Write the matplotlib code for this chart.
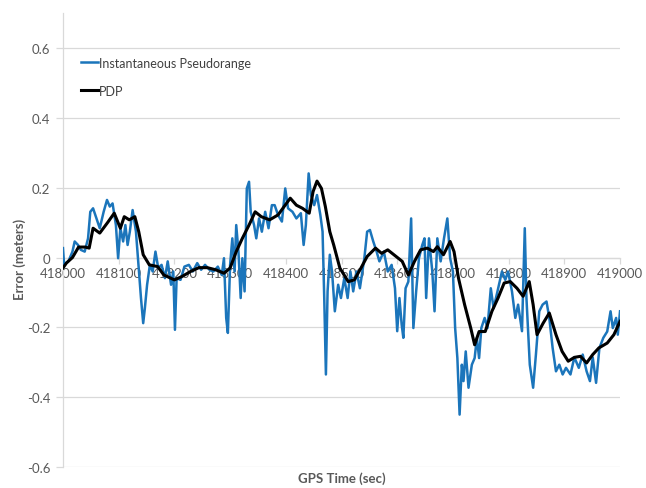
import matplotlib
matplotlib.use("Agg")
import matplotlib.pyplot as plt
import numpy as np

# GPS time offsets (s) from the start epoch and the range errors (m)
start_epoch = 418000

inst_t = [0, 2, 10, 17, 21, 27, 32, 39, 45, 49, 54, 60, 66, 73, 79, 84, 89, 95, 99, 103,
          108, 112, 116, 120, 125, 131, 136, 140, 144, 147, 151, 156, 161, 166, 171, 177,
          183, 188, 194, 198, 201, 204, 211, 218, 226, 233, 241, 248, 255, 263, 270, 278,
          285, 289, 293, 296, 300, 304, 308, 311, 315, 319, 322, 326, 330, 334, 337, 343,
          347, 352, 357, 363, 369, 375, 380, 386, 393, 399, 404, 412, 419, 427, 432, 436,
          441, 445, 451, 456, 462, 466, 469, 472, 475, 479, 483, 488, 494, 499, 505, 511,
          516, 521, 527, 533, 541, 546, 551, 557, 563, 568, 576, 583, 590, 596, 600, 604,
          608, 611, 615, 620, 625, 629, 634, 639, 645, 649, 652, 657, 663, 667, 672, 678,
          684, 690, 695, 700, 704, 708, 712, 716, 719, 723, 728, 734, 739, 743, 747, 751,
          757, 762, 768, 773, 780, 788, 794, 799, 806, 812, 817, 824, 829, 832, 838, 844,
          849, 855, 861, 868, 873, 879, 885, 891, 897, 903, 911, 918, 926, 933, 940, 946,
          951, 957, 963, 970, 977, 983, 987, 993, 996, 1000]
inst_err = [0.027, -0.02, -0.01, 0.017, 0.046, 0.036, 0.022, 0.017, 0.055, 0.131, 0.141,
            0.112, 0.084, 0.131, 0.165, 0.146, 0.155, 0.093, -0.002, 0.084, 0.046, 0.093,
            0.036, 0.074, 0.136, 0.074, -0.03, -0.116, -0.188, -0.145, -0.078, -0.021,
            -0.04, 0.017, -0.03, -0.021, -0.059, -0.011, -0.078, -0.04, -0.207, -0.059,
            -0.064, -0.026, -0.021, -0.04, -0.016, -0.035, -0.021, -0.035, -0.04, -0.026,
            -0.05, -0.002, -0.173, -0.216, -0.021, 0.055, -0.04, 0.093, 0.017, -0.116,
            -0.002, -0.097, 0.198, 0.217, 0.131, 0.093, 0.055, 0.112, 0.074, 0.131, 0.084,
            0.15, 0.15, 0.122, 0.103, 0.198, 0.141, 0.131, 0.112, 0.127, 0.036, 0.093,
            0.241, 0.179, 0.15, 0.179, 0.122, 0.074, -0.116, -0.335, -0.097, 0.008, -0.04,
            -0.154, -0.078, -0.116, -0.059, -0.116, -0.04, -0.097, -0.04, -0.088, -0.002,
            0.074, 0.079, 0.046, 0.017, -0.011, 0.017, -0.04, -0.021, -0.088, -0.211,
            -0.116, -0.192, -0.23, -0.088, -0.069, 0.112, -0.202, -0.097, -0.002, 0.036,
            0.055, -0.116, 0.055, -0.04, -0.154, 0.055, -0.011, 0.055, 0.112, -0.002,
            -0.04, -0.202, -0.288, -0.45, -0.307, -0.354, -0.269, -0.373, -0.307, -0.288,
            -0.23, -0.288, -0.202, -0.173, -0.202, -0.088, -0.145, -0.097, -0.04, -0.064,
            -0.04, -0.097, -0.173, -0.135, -0.211, 0.084, -0.116, -0.307, -0.373, -0.278,
            -0.154, -0.135, -0.126, -0.173, -0.259, -0.326, -0.307, -0.335, -0.316, -0.335,
            -0.286, -0.316, -0.278, -0.326, -0.354, -0.286, -0.359, -0.259, -0.23, -0.212,
            -0.154, -0.202, -0.173, -0.221, -0.154]

pdp_t = [0, 6, 17, 28, 40, 47, 54, 66, 80, 92, 103, 110, 119, 129, 136, 144, 155, 170,
         181, 200, 214, 229, 244, 259, 274, 289, 300, 311, 322, 334, 345, 356, 371, 386,
         397, 408, 419, 430, 442, 449, 456, 464, 471, 479, 486, 497, 512, 523, 535, 546,
         561, 572, 583, 598, 609, 620, 631, 642, 654, 665, 672, 683, 695, 702, 710, 721,
         732, 739, 747, 758, 770, 781, 792, 803, 815, 826, 837, 844, 851, 862, 873, 885,
         896, 907, 918, 929, 940, 951, 962, 977, 989, 1000]
pdp_err = [-0.03, -0.016, 0.0, 0.03, 0.03, 0.027, 0.084, 0.07, 0.1, 0.127, 0.084, 0.117,
           0.108, 0.117, 0.074, 0.008, -0.021, -0.026, -0.05, -0.064, -0.054, -0.04,
           -0.029, -0.029, -0.035, -0.045, -0.03, 0.017, 0.055, 0.093, 0.131, 0.117, 0.108,
           0.122, 0.146, 0.17, 0.15, 0.141, 0.127, 0.189, 0.219, 0.198, 0.146, 0.074, 0.036,
           -0.03, -0.069, -0.064, -0.03, 0.003, 0.027, 0.012, 0.022, 0.003, -0.011, -0.05,
           -0.011, 0.022, 0.027, 0.017, 0.031, 0.008, 0.046, 0.017, -0.059, -0.135, -0.202,
           -0.25, -0.212, -0.212, -0.154, -0.116, -0.073, -0.069, -0.088, -0.111, -0.069,
           -0.135, -0.221, -0.188, -0.159, -0.221, -0.269, -0.297, -0.286, -0.283, -0.302,
           -0.278, -0.259, -0.245, -0.221, -0.183]

x_ticks = [418000, 418100, 418200, 418300, 418400, 418500, 418600, 418700, 418800,
           418900, 419000]
y_ticks = [-0.6, -0.4, -0.2, 0, 0.2, 0.4, 0.6]
y_tick_labels = ["-0.6", "-0.4", "-0.2", "0", "0.2", "0.4", "0.6"]

plt.rcParams["font.family"] = ["Lato", "DejaVu Sans"]

fig = plt.figure(figsize=(6.46, 4.89), dpi=100)
ax = fig.add_axes([0.0975, 0.043, 0.8623, 0.928])

grid_col = "#d9d9d9"
text_col = "#595959"

ax.plot(start_epoch + np.asarray(inst_t), inst_err, color="#1B75BB", lw=1.8,
        label="Instantaneous Pseudorange", zorder=3)
ax.plot(start_epoch + np.asarray(pdp_t), pdp_err, color="black", lw=2.2,
        label="PDP", zorder=4)

ax.set_xlim(x_ticks[0], x_ticks[-1])
ax.set_ylim(-0.6, 0.7)
ax.set_yticks(y_ticks)
ax.set_yticklabels(y_tick_labels)
ax.set_xticks(x_ticks)
ax.set_xticklabels([str(v) for v in x_ticks])

ax.yaxis.grid(True, color=grid_col, lw=0.9)
ax.set_axisbelow(True)

for side in ("top", "right"):
    ax.spines[side].set_visible(False)
ax.spines["left"].set_color(grid_col)
ax.spines["left"].set_linewidth(0.9)
ax.spines["bottom"].set_position(("data", 0))
ax.spines["bottom"].set_color(grid_col)
ax.spines["bottom"].set_linewidth(0.9)

ax.tick_params(axis="y", length=5, color=grid_col, width=0.9, labelsize=9.5,
               labelcolor=text_col, pad=4)
ax.tick_params(axis="x", length=4, color=grid_col, width=0.9, labelsize=9.5,
               labelcolor=text_col, pad=3)

fig.text(0.529, 0.022, "GPS Time (sec)", ha="center", va="center",
         fontsize=9.5, fontweight="bold", color=text_col)
fig.text(0.031, 0.47, "Error (meters)", ha="center", va="center", rotation=90,
         fontsize=9.5, fontweight="bold", color=text_col)

ax.legend(loc="upper left", bbox_to_anchor=(0.115, 0.895), bbox_transform=fig.transFigure,
          frameon=False, fontsize=9, handlelength=1.4, handletextpad=0.05,
          labelspacing=1.3, borderpad=0, labelcolor="#404040")

fig.savefig("out.png", dpi=100)
